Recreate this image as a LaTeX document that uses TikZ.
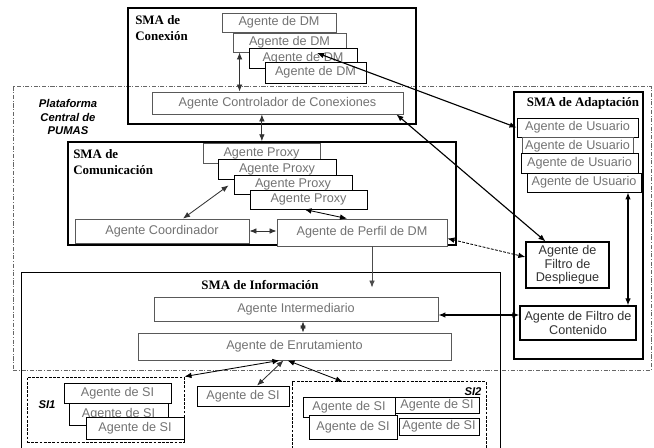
\documentclass[tikz,border=0pt]{standalone}
\usepackage{fontspec}
\setsansfont{Liberation Sans}
\newfontfamily\smafont{Liberation Serif}
\usetikzlibrary{arrows.meta}
\begin{document}
\begin{tikzpicture}[x=0.025cm,y=-0.025cm,
  agent/.style={draw=black!65,fill=white,line width=0.6pt,inner sep=0pt,text=black!55,font=\sffamily\fontsize{9}{9.5}\selectfont},
  agentk/.style={agent,draw=black},
  filtro/.style={agentk,line width=0.9pt,text=black!80,align=center},
  sma/.style={draw,line width=1pt},
  smalabel/.style={font=\smafont\bfseries\fontsize{9.2}{11.4}\selectfont,align=left,inner sep=0pt},
  silabel/.style={font=\sffamily\bfseries\itshape\fontsize{8}{9.3}\selectfont,align=center,inner sep=0pt},
  grp/.style={draw,dash pattern=on 2pt off 1pt,line width=0.6pt},
  dbl/.style={{Latex[length=5pt,width=4pt]}-{Latex[length=5pt,width=4pt]},line width=0.6pt,black!80},
  sgl/.style={-{Latex[length=5pt,width=4pt]},line width=0.6pt,black!70}]
\useasboundingbox (0,0) rectangle (654,448);
\node[draw=black!60,line width=0.5pt,dash pattern=on 3pt off 1.2pt on 0.6pt off 1.2pt,minimum width=15.95cm,minimum height=7.1cm] (plat) at (332,228) {};
\node[silabel] (platlbl) at (68,117) {Plataforma\\Central de\\PUMAS};
% SMA de Conexion
\node[sma,minimum width=7.2cm,minimum height=2.9cm] (conex) at (272,66) {};
\node[smalabel,anchor=north west] (conexlbl) at (135,15) {SMA de\\Conexión};
\node[agent,minimum width=2.85cm,minimum height=0.475cm] (dma) at (279,22.5) {Agente de DM};
\node[agent,minimum width=2.825cm,minimum height=0.475cm] (dmb) at (289.5,42.5) {Agente de DM};
\node[agentk,minimum width=2.7cm,minimum height=0.5cm] (dmc) at (303,58) {Agente de DM};
\node[agentk,minimum width=2.525cm,minimum height=0.525cm] (dmd) at (315.5,72.5) {Agente de DM};
\node[agent,minimum width=6.275cm,minimum height=0.55cm] (ctrl) at (277.5,103) {Agente Controlador de Conexiones};
% SMA de Comunicacion
\node[sma,minimum width=9.7cm,minimum height=2.575cm] (comun) at (262,193.5) {};
\node[smalabel,anchor=north west] (comunlbl) at (73,149) {SMA de\\Comunicación};
\node[agent,minimum width=2.925cm,minimum height=0.5cm] (pa) at (261.5,153) {Agente Proxy};
\node[agentk,minimum width=2.95cm,minimum height=0.5cm] (pb) at (277,169) {Agente Proxy};
\node[agentk,minimum width=2.95cm,minimum height=0.475cm] (pc) at (293,184.5) {Agente Proxy};
\node[agentk,minimum width=2.925cm,minimum height=0.475cm] (pd) at (308.5,199.5) {Agente Proxy};
\node[agent,minimum width=4.35cm,minimum height=0.6cm] (coord) at (162,231) {Agente Coordinador};
\node[agent,minimum width=4.25cm,minimum height=0.675cm] (perfil) at (362,232.5) {Agente de Perfil de DM};
% SMA de Informacion
\node[minimum width=11.95cm,minimum height=4.4cm] (info) at (261,361) {};
\draw[sma] (info.south west) |- (info.north east) -- (info.south east);
\node[smalabel] (infolbl) at (260,285) {SMA de Información};
\node[agent,minimum width=7.1cm,minimum height=0.6cm] (inter) at (296,309) {Agente Intermediario};
\node[agent,minimum width=7.825cm,minimum height=0.675cm] (enr) at (294.5,346.5) {Agente de Enrutamiento};
% SMA de Adaptacion
\node[sma,minimum width=3.225cm,minimum height=6.675cm] (adapt) at (578.5,225.5) {};
\node[smalabel] (adaptlbl) at (583,103) {SMA de Adaptación};
\node[agentk,minimum width=3.025cm,minimum height=0.475cm] (ua) at (577.5,127.5) {Agente de Usuario};
\node[agent,minimum width=2.775cm,minimum height=0.475cm] (ub) at (577.5,146.5) {Agente de Usuario};
\node[agentk,minimum width=2.925cm,minimum height=0.5cm] (uc) at (579.5,163) {Agente de Usuario};
\node[agentk,minimum width=2.85cm,minimum height=0.475cm] (ud) at (584,182.5) {Agente de Usuario};
\node[filtro,minimum width=2.075cm,minimum height=1.15cm] (desp) at (567.5,265) {Agente de\\Filtro de\\Despliegue};
\node[filtro,minimum width=2.9cm,minimum height=0.85cm] (cont) at (578,323) {Agente de Filtro de\\Contenido};
% fuentes de informacion
\node[grp,minimum width=3.925cm,minimum height=1.625cm] (sione) at (105.5,409.5) {};
\node[silabel] (sionelbl) at (47,405) {SI1};
\node[agentk,minimum width=2.675cm,minimum height=0.5cm] (sia) at (117.5,393) {Agente de SI};
\node[agentk,minimum width=2.475cm,minimum height=0.55cm] (sib) at (118.5,414) {Agente de SI};
\node[agentk,minimum width=2.45cm,minimum height=0.55cm] (sic) at (135,428) {Agente de SI};
\node[agentk,minimum width=2.3cm,minimum height=0.5cm] (sim) at (243,396) {Agente de SI};
\node[minimum width=4.825cm,minimum height=1.675cm] (sitwo) at (389.5,415.5) {};
\draw[grp] (sitwo.south west) |- (sitwo.north east) -- (sitwo.south east);
\node[silabel] (sitwolbl) at (473,392) {SI2};
\node[agentk,minimum width=2.3cm,minimum height=0.5cm] (sda) at (349,407) {Agente de SI};
\node[agentk,minimum width=2.1cm,minimum height=0.4cm] (sdb) at (437,405) {Agente de SI};
\node[agentk,minimum width=2.2cm,minimum height=0.6cm] (sdc) at (353,427) {Agente de SI};
\node[agentk,minimum width=2.0cm,minimum height=0.425cm] (sdd) at (439,426.5) {Agente de SI};
% conexiones
\draw[dbl] ([xshift=0.175cm]dmb.south west) -- ([xshift=0.175cm]dmb.south west |- ctrl.north);
\draw[dbl] ([xshift=-0.39cm]ctrl.south) -- ([xshift=-0.39cm]ctrl.south |- comun.north);
\draw[dbl,black,line width=0.8pt] ([xshift=0.35cm,yshift=0.125cm]dmc.center) -- (ua.west);
\draw[dbl,black,line width=0.8pt] ([xshift=-0.175cm]ctrl.south east) -- ([xshift=-0.55cm]desp.north);
\draw[dbl,black,dash pattern=on 2pt off 1pt] ([yshift=-0.15cm]perfil.east) -- ([yshift=0.2cm]desp.west);
\draw[dbl] ([xshift=0.525cm]coord.north) -- ([xshift=-0.125cm,yshift=0.225cm]pc.south west);
\draw[dbl] (coord.east) -- (coord.east -| perfil.west);
\draw[dbl,black] ([xshift=-0.1cm]pd.south) -- ([xshift=-0.375cm]perfil.north);
\draw[sgl,shorten >=0.225cm] ([xshift=0.25cm]perfil.south) -- ([xshift=0.25cm]perfil.south |- inter.north);
\draw[dbl] ([xshift=0.175cm]inter.south) -- ([xshift=0.175cm]inter.south |- enr.north);
\draw[dbl,black,line width=0.9pt] ([yshift=-0.15cm]inter.east) -- ([yshift=-0.15cm]inter.east -| cont.west);
\draw[dbl,black,line width=0.9pt] ([xshift=1.1cm]ud.south) -- ([xshift=1.1cm]ud.south |- cont.north);
\draw[dbl,black] ([xshift=-0.375cm]enr.south) -- (sione.north east);
\draw[dbl] ([xshift=-0.275cm]enr.south) -- ([xshift=0.35cm]sim.north);
\draw[dbl,black] ([xshift=-0.175cm]enr.south) -- ([xshift=1.25cm]sitwo.north west);
\end{tikzpicture}
\end{document}
